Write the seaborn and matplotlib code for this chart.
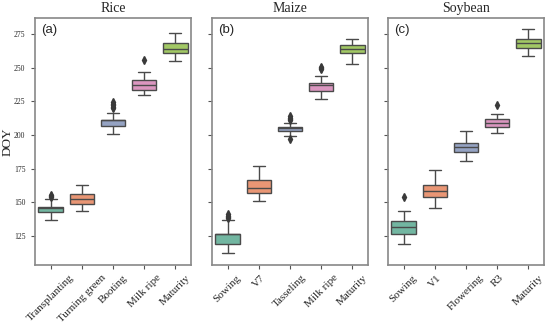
import matplotlib
matplotlib.use("Agg")
import matplotlib.pyplot as plt
import seaborn as sns
import pandas as pd

# ---- data (DOY) ----
rice_stages = ["Transplanting", "Turning green", "Booting", "Milk ripe", "Maturity"]
rice_lo = [137.0, 143.6, 201.0, 229.8, 255.0]
rice_q1 = [142.6, 148.5, 206.9, 233.3, 261.3]
rice_med = [144.8, 152.3, 208.9, 237.0, 264.0]
rice_q3 = [146.5, 155.8, 210.9, 240.7, 268.7]
rice_hi = [152.0, 162.7, 216.5, 246.9, 276.0]
rice_out = [[153.5, 154.3, 155.0], [], [219.9, 221.0, 222.0, 223.0, 224.5], [255.8], []]

maize_stages = ["Sowing", "V7", "Tasseling", "Milk ripe", "Maturity"]
maize_lo = [112.0, 150.8, 199.2, 227.0, 252.9]
maize_q1 = [118.7, 157.0, 203.0, 233.0, 260.8]
maize_med = [122.2, 160.2, 204.4, 236.0, 264.0]
maize_q3 = [126.0, 166.4, 205.9, 239.0, 267.0]
maize_hi = [136.5, 176.9, 208.6, 243.9, 271.7]
maize_out = [[138.0, 139.0, 140.0, 141.0], [], [211.0, 212.0, 213.0, 214.0, 196.8], [249.0, 250.0, 251.0], []]

soy_stages = ["Sowing", "V1", "Flowering", "R3", "Maturity"]
soy_lo = [118.5, 145.6, 180.8, 201.7, 258.8]
soy_q1 = [126.2, 154.0, 187.5, 205.7, 265.0]
soy_med = [131.6, 158.5, 190.8, 208.7, 268.3]
soy_q3 = [136.0, 162.5, 193.8, 211.9, 271.3]
soy_hi = [143.6, 173.9, 202.7, 215.8, 278.7]
soy_out = [[153.5], [], [], [222.0], []]

panels = [
    ("Rice", "(a)", rice_stages, rice_lo, rice_q1, rice_med, rice_q3, rice_hi, rice_out),
    ("Maize", "(b)", maize_stages, maize_lo, maize_q1, maize_med, maize_q3, maize_hi, maize_out),
    ("Soybean", "(c)", soy_stages, soy_lo, soy_q1, soy_med, soy_q3, soy_hi, soy_out),
]


def build_frame(stages, lo, q1, med, q3, hi, out):
    # sample whose quartiles / whiskers reproduce the read box statistics
    rows = []
    for s, a, b, c, d, e, o in zip(stages, lo, q1, med, q3, hi, out):
        vals = [a] + [b] * 10 + [c] * 3 + [d] * 10 + [e] + list(o)
        rows += [(s, v) for v in vals]
    return pd.DataFrame(rows, columns=["stage", "DOY"])


sns.set_style("white")
plt.rcParams["font.family"] = ["Liberation Serif", "DejaVu Serif"]

fig = plt.figure(figsize=(5.5, 3.27), dpi=100)
lefts = [35 / 550, 212 / 550, 388 / 550]
w = 156 / 550
bottom = 1 - 265 / 327
h = (265 - 17.5) / 327
palette = sns.color_palette("Set2", 5)

for i, (title, tag, stages, lo, q1, med, q3, hi, out) in enumerate(panels):
    ax = fig.add_axes([lefts[i], bottom, w, h])
    df = build_frame(stages, lo, q1, med, q3, hi, out)
    sns.boxplot(data=df, x="stage", y="DOY", hue="stage", palette=palette,
                order=stages, legend=False, ax=ax, width=0.78, linewidth=1.0,
                linecolor="#4a4a4a",
                flierprops=dict(marker="d", markerfacecolor="#3a3a3a",
                                markeredgecolor="#3a3a3a", markersize=4))
    ax.set_ylim(103.2, 287.5)
    ax.set_xlim(-0.5, 4.5)
    ax.set_yticks([125, 150, 175, 200, 225, 250, 275])
    ax.set_title(title, fontsize=10, pad=4)
    ax.set_xlabel("")
    if i == 0:
        ax.set_ylabel("DOY", fontsize=9.5)
        ax.yaxis.set_label_coords(-0.14, 0.5)
        ax.tick_params(axis="y", labelsize=5.5, pad=4)
    else:
        ax.set_ylabel("")
        ax.set_yticklabels([])
    ax.set_xticks(range(5))
    ax.set_xticklabels(stages, rotation=45, ha="center", fontsize=8)
    ax.tick_params(axis="x", pad=3)
    ax.tick_params(axis="both", length=3, width=0.8, color="#555555", bottom=True, left=True)
    for sp in ax.spines.values():
        sp.set_color("#888888")
        sp.set_linewidth(1.2)
    ax.text(0.04, 0.975, tag, transform=ax.transAxes, ha="left", va="top",
            fontsize=9.5, family=["Liberation Sans", "DejaVu Sans"])

fig.savefig("out.png", dpi=100)
